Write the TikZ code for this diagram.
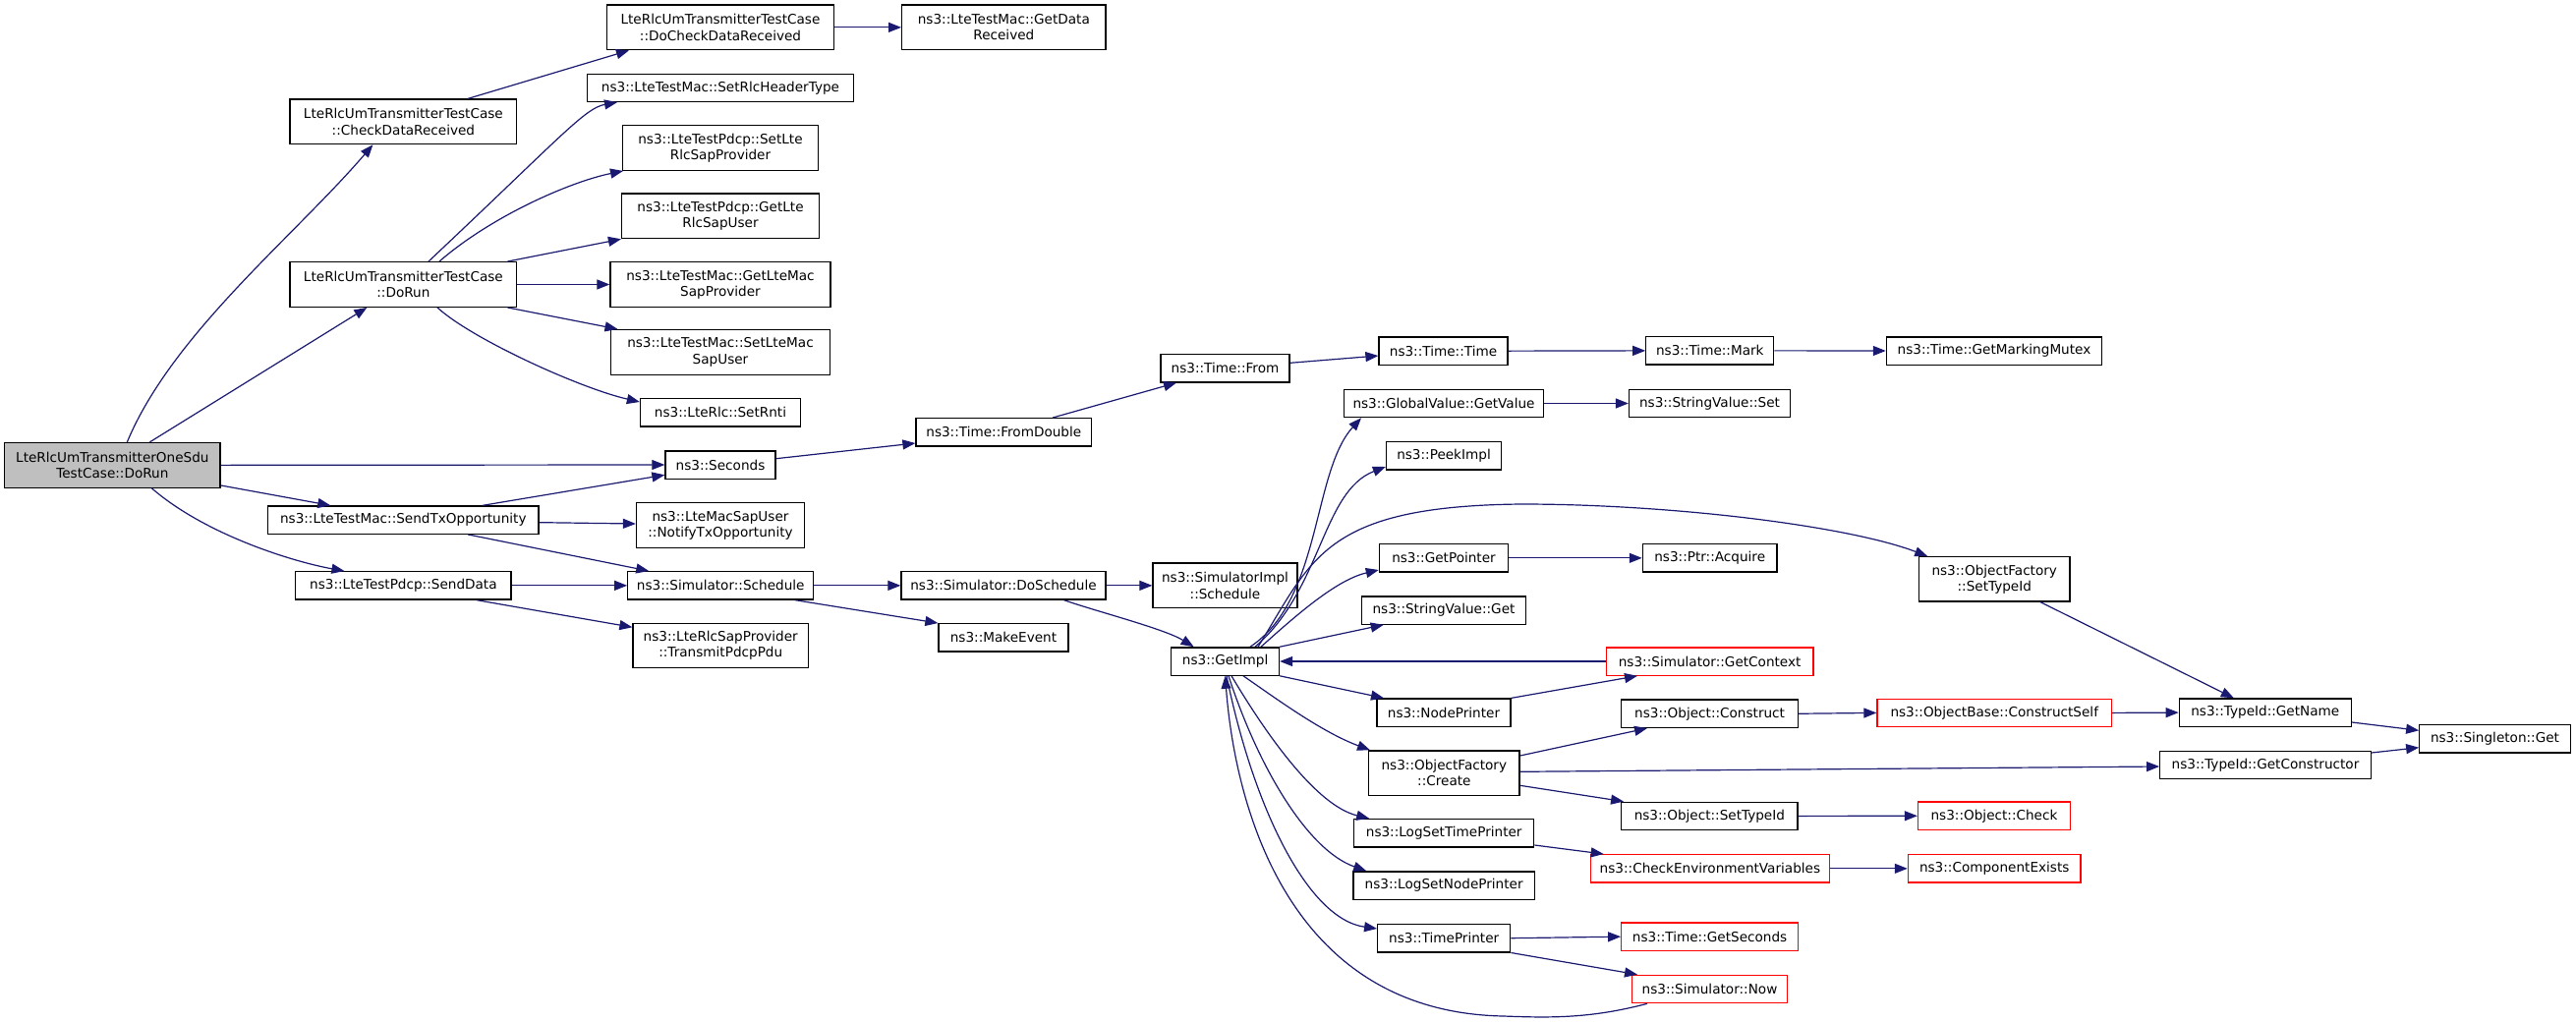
\documentclass[tikz,border=0pt]{standalone}
\usepackage{fontspec}
\setmainfont{DejaVu Sans}
\usetikzlibrary{arrows.meta}
\definecolor{edgeblue}{HTML}{191970}
\definecolor{mainfill}{HTML}{BFBFBF}
\begin{document}
\begin{tikzpicture}[x=1pt,y=-1pt,
  fn/.style={draw=black, line width=1.3pt, fill=white, inner sep=0pt, align=center,
    font=\fontsize{13.6}{16.2}\selectfont, minimum height=28.3pt},
  fn2/.style={fn, minimum height=45.6pt},
  trunc/.style={draw=red},
  conn/.style={draw=edgeblue, line width=1.2pt, -{Triangle[length=13pt,width=10pt]}}]
\useasboundingbox (0,0) rectangle (2621,1039);
% column 0
\node[fn2, fill=mainfill, minimum width=219.3pt] (main) at (114.35,473.35) {LteRlcUmTransmitterOneSdu\\TestCase::DoRun};
% column 1
\node[fn2, minimum width=230.8pt] (chk) at (410.4,123.85) {LteRlcUmTransmitterTestCase\\::CheckDataReceived};
\node[fn2, minimum width=230.8pt] (tcrun) at (410.4,289.5) {LteRlcUmTransmitterTestCase\\::DoRun};
\node[fn, minimum width=275.4pt] (sendtx) at (410.3,529.15) {ns3::LteTestMac::SendTxOpportunity};
\node[fn, minimum width=219.2pt] (senddata) at (410.4,595.85) {ns3::LteTestPdcp::SendData};
% column 2
\node[fn2, minimum width=230.8pt] (docheck) at (733,27.85) {LteRlcUmTransmitterTestCase\\::DoCheckDataReceived};
\node[fn, minimum width=271pt] (rlchdr) at (733,89.3) {ns3::LteTestMac::SetRlcHeaderType};
\node[fn2, minimum width=198.6pt] (setrlc) at (733,150.5) {ns3::LteTestPdcp::SetLte\\RlcSapProvider};
\node[fn2, minimum width=200.9pt] (getrlc) at (733,219.85) {ns3::LteTestPdcp::GetLte\\RlcSapUser};
\node[fn2, minimum width=224pt] (getmac) at (733,289.5) {ns3::LteTestMac::GetLteMac\\SapProvider};
\node[fn2, minimum width=222.7pt] (setmac) at (733,358.35) {ns3::LteTestMac::SetLteMac\\SapUser};
\node[fn, minimum width=163pt] (setrnti) at (733,419.85) {ns3::LteRlc::SetRnti};
\node[fn, minimum width=112pt] (seconds) at (733,473) {ns3::Seconds};
\node[fn2, minimum width=171pt] (notify) at (733,534.5) {ns3::LteMacSapUser\\::NotifyTxOpportunity};
\node[fn, minimum width=188.9pt] (schedule) at (733.25,595.85) {ns3::Simulator::Schedule};
\node[fn2, minimum width=178.5pt, minimum height=45pt] (transmit) at (733.25,656.8) {ns3::LteRlcSapProvider\\::TransmitPdcpPdu};
% column 3
\node[fn2, minimum width=207.3pt] (getdata) at (1021.35,27.85) {ns3::LteTestMac::GetData\\Received};
\node[fn, minimum width=178.6pt] (fromdouble) at (1021.3,439.85) {ns3::Time::FromDouble};
\node[fn, minimum width=208pt] (doschedule) at (1021,595.85) {ns3::Simulator::DoSchedule};
\node[fn, minimum width=132pt] (makeevent) at (1021,648.85) {ns3::MakeEvent};
% column 4
\node[fn, minimum width=131pt] (timefrom) at (1246.5,374.7) {ns3::Time::From};
\node[fn2, minimum width=147pt] (simimpl) at (1246.5,595.85) {ns3::SimulatorImpl\\::Schedule};
\node[fn, minimum width=109.8pt] (getimpl) at (1246.6,673) {ns3::GetImpl};
% column 5
\node[fn, minimum width=131pt] (timetime) at (1468.5,357.15) {ns3::Time::Time};
\node[fn, minimum width=202.4pt] (globalval) at (1469,410.5) {ns3::GlobalValue::GetValue};
\node[fn, minimum width=117pt] (peekimpl) at (1469,463.85) {ns3::PeekImpl};
\node[fn, minimum width=131.2pt] (getpointer) at (1469,567.85) {ns3::GetPointer};
\node[fn, minimum width=166.7pt] (svget) at (1469,621) {ns3::StringValue::Get};
\node[fn, minimum width=136pt] (nodeprinter) at (1469,725.15) {ns3::NodePrinter};
\node[fn2, minimum width=153.3pt, minimum height=45.3pt] (create) at (1469.35,786.65) {ns3::ObjectFactory\\::Create};
\node[fn, minimum width=183pt] (logtime) at (1469.2,847.7) {ns3::LogSetTimePrinter};
\node[fn, minimum width=184.3pt] (lognode) at (1469.15,901) {ns3::LogSetNodePrinter};
\node[fn, minimum width=135pt] (timeprinter) at (1469.2,954.7) {ns3::TimePrinter};
% column 6
\node[fn, minimum width=130pt] (timemark) at (1739.8,356.85) {ns3::Time::Mark};
\node[fn, minimum width=164pt] (svset) at (1739.5,410.5) {ns3::StringValue::Set};
\node[fn, minimum width=136.6pt] (acquire) at (1739.7,567.85) {ns3::Ptr::Acquire};
\node[fn, trunc, minimum width=210.7pt] (getcontext) at (1739.65,673) {ns3::Simulator::GetContext};
\node[fn, minimum width=179.8pt] (construct) at (1739.6,726.25) {ns3::Object::Construct};
\node[fn, minimum width=179.3pt] (objsettype) at (1739.35,830.4) {ns3::Object::SetTypeId};
\node[fn, trunc, minimum width=243.2pt] (checkenv) at (1739.9,883.85) {ns3::CheckEnvironmentVariables};
\node[fn, trunc, minimum width=179.7pt] (getseconds) at (1739.55,953.15) {ns3::Time::GetSeconds};
\node[fn, trunc, minimum width=157.8pt] (simnow) at (1739.5,1006.5) {ns3::Simulator::Now};
% column 7
\node[fn, minimum width=219.2pt] (mutex) at (2029,357) {ns3::Time::GetMarkingMutex};
\node[fn2, minimum width=153.3pt, minimum height=45.3pt] (ofsettype) at (2029.25,589.35) {ns3::ObjectFactory\\::SetTypeId};
\node[fn, trunc, minimum width=238.5pt] (constructself) at (2029.25,725.4) {ns3::ObjectBase::ConstructSelf};
\node[fn, trunc, minimum width=155pt] (objcheck) at (2029,830.25) {ns3::Object::Check};
\node[fn, trunc, minimum width=175.6pt] (compexists) at (2029.2,883.85) {ns3::ComponentExists};
% column 8
\node[fn, minimum width=175pt] (getname) at (2304.8,725.1) {ns3::TypeId::GetName};
\node[fn, minimum width=214.5pt] (getconstructor) at (2305,778.5) {ns3::TypeId::GetConstructor};
% column 9
\node[fn, minimum width=153.4pt] (singleton) at (2538.5,751.85) {ns3::Singleton::Get};

% ---- edges from main
\draw[conn] ([xshift=15pt]main.north) .. controls (175,340) and (300,240) .. ([xshift=-31pt]chk.south);
\draw[conn] ([xshift=38pt]main.north) -- ([xshift=-37pt]tcrun.south);
\draw[conn] (main.east) -- (seconds.west);
\draw[conn] ([yshift=-20.6pt]main.east) -- ([xshift=-74pt]sendtx.north);
\draw[conn] ([xshift=40pt]main.south) .. controls (210,545) and (300,572) .. ([xshift=-60pt]senddata.north);
% ---- CheckDataReceived
\draw[conn] ([xshift=65.6pt]chk.north) -- ([xshift=-93pt]docheck.south);
\draw[conn] (docheck.east) -- (getdata.west);
% ---- TestCase DoRun
\draw[conn] ([xshift=25.6pt]tcrun.north) .. controls (570,140) and (595,110) .. ([xshift=-105pt]rlchdr.south);
\draw[conn] ([xshift=36.6pt]tcrun.north) .. controls (500,220) and (580,185) .. ([xshift=-99pt]setrlc.south);
\draw[conn] ([xshift=106pt]tcrun.north) -- (getrlc.south west);
\draw[conn] (tcrun.east) -- (getmac.west);
\draw[conn] ([xshift=106pt]tcrun.south) -- ([xshift=-104.5pt]setmac.north);
\draw[conn] ([xshift=34.6pt]tcrun.south) .. controls (480,345) and (590,395) .. ([yshift=10.85pt]setrnti.west);
% ---- SendTxOpportunity / SendData
\draw[conn] ([xshift=80.5pt]sendtx.north) -- ([yshift=-10.3pt]seconds.west);
\draw[conn] ([yshift=-2.5pt]sendtx.east) -- ([yshift=1.5pt]notify.west);
\draw[conn] ([xshift=66pt]sendtx.south) -- ([xshift=-73pt]schedule.north);
\draw[conn] (senddata.east) -- (schedule.west);
\draw[conn] ([xshift=74.6pt]senddata.south) -- ([yshift=18.5pt]transmit.west);
% ---- Seconds chain
\draw[conn] ([yshift=6.3pt]seconds.east) -- ([yshift=-11.15pt]fromdouble.west);
\draw[conn] ([xshift=49.7pt]fromdouble.north) -- ([xshift=-49.5pt]timefrom.south);
\draw[conn] ([yshift=5.4pt]timefrom.east) -- ([yshift=-4.85pt]timetime.west);
\draw[conn] (timetime.east) -- (timemark.west);
\draw[conn] (timemark.east) -- (mutex.west);
% ---- Schedule chain
\draw[conn] (schedule.east) -- (doschedule.west);
\draw[conn] ([xshift=75.75pt]schedule.south) -- (makeevent.north west);
\draw[conn] (doschedule.east) -- (simimpl.west);
\draw[conn] ([xshift=61.5pt]doschedule.south) .. controls (1115,622) and (1185,640) .. ([xshift=-32pt]getimpl.north);
% ---- GetImpl upward
\draw[conn] ([xshift=25.4pt]getimpl.north) .. controls (1345,610) and (1335,480) .. ([xshift=-84pt]globalval.south);
\draw[conn] ([xshift=30.4pt]getimpl.north) .. controls (1345,600) and (1345,500) .. ([yshift=-11.15pt]peekimpl.west);
\draw[conn] ([xshift=33.4pt]getimpl.north) .. controls (1335,570) and (1345,515) .. (1548,513)
   .. controls (1700,513) and (1880,535) .. ([xshift=-68pt]ofsettype.north);
\draw[conn] ([xshift=36.4pt]getimpl.north) .. controls (1320,625) and (1360,590) .. ([yshift=-12.15pt]getpointer.west);
\draw[conn] (getimpl.north east) -- ([xshift=-61.3pt]svget.south);
\draw[conn] (getcontext.west) -- (getimpl.east);
% ---- GetImpl downward
\draw[conn] (getimpl.south east) -- ([xshift=-61pt]nodeprinter.north);
\draw[conn] (nodeprinter.north east) -- ([xshift=-73.65pt]getcontext.south);
\draw[conn] ([xshift=18.4pt]getimpl.south) .. controls (1300,712) and (1345,745) .. ([xshift=2pt]create.north west);
\draw[conn] ([xshift=6.4pt]getimpl.south) .. controls (1290,750) and (1340,820) .. ([xshift=-76pt]logtime.north);
\draw[conn] ([xshift=3.4pt]getimpl.south) .. controls (1280,780) and (1330,865) .. ([xshift=-79pt]lognode.north);
\draw[conn] ([xshift=1.4pt]getimpl.south) .. controls (1275,820) and (1330,935) .. ([yshift=9.7pt]timeprinter.west);
\draw[conn] ([xshift=-63.5pt]simnow.south) .. controls (1620,1036) and (1580,1036) .. (1530,1034)
   .. controls (1300,1030) and (1255,800) .. (getimpl.south);
% ---- ObjectFactory::Create
\draw[conn] ([yshift=17.65pt]create.east) -- ([xshift=-63.6pt]construct.south);
\draw[conn] ([yshift=1.35pt]create.east) -- ([yshift=-1.5pt]getconstructor.west);
\draw[conn] ([yshift=-12.65pt]create.east) -- ([xshift=3pt]objsettype.north west);
% ---- printers
\draw[conn] ([yshift=-12.3pt]logtime.east) -- ([xshift=14pt]checkenv.north west);
\draw[conn] (timeprinter.east) -- (getseconds.west);
\draw[conn] (timeprinter.south east) -- ([xshift=-73.5pt]simnow.north);
% ---- right side
\draw[conn] (globalval.east) -- (svset.west);
\draw[conn] (getpointer.east) -- (acquire.west);
\draw[conn] (construct.east) -- (constructself.west);
\draw[conn] (constructself.east) -- (getname.west);
\draw[conn] ([yshift=-9.9pt]getname.east) -- ([yshift=8.55pt]singleton.west);
\draw[conn] ([yshift=12.5pt]getconstructor.east) -- ([yshift=-8.85pt]singleton.west);
\draw[conn] ([xshift=46.75pt]ofsettype.south) -- ([xshift=-32pt]getname.north);
\draw[conn] (objsettype.east) -- (objcheck.west);
\draw[conn] (checkenv.east) -- (compexists.west);
\end{tikzpicture}
\end{document}
